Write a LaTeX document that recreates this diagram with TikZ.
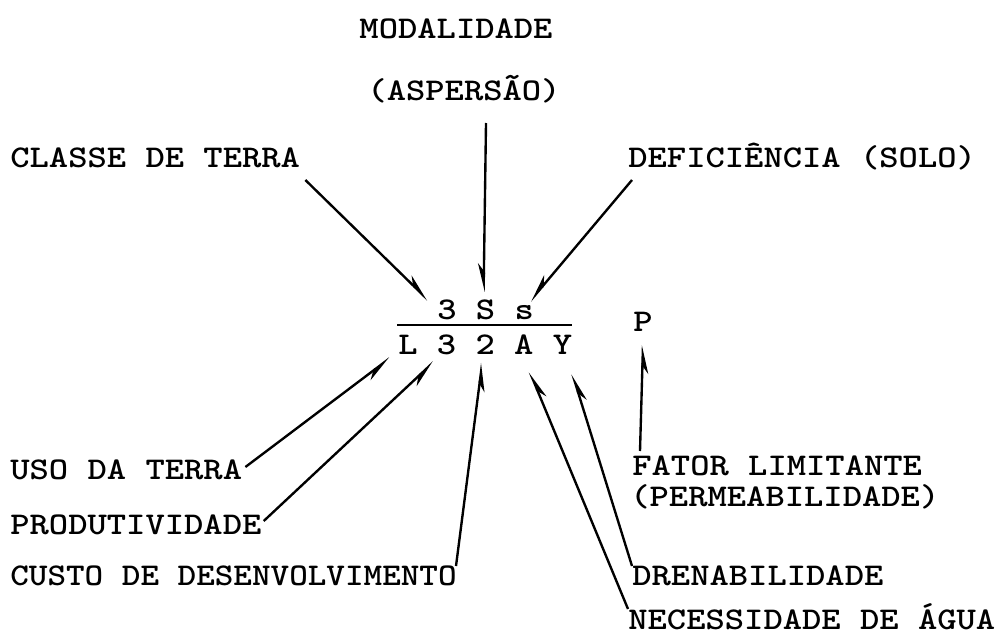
\documentclass[tikz,border=0pt]{standalone}
\usepackage{fontspec}
\usepackage{graphicx}
\usetikzlibrary{arrows.meta,calc}
\newcommand{\twx}[2][1.163]{\scalebox{#1}[1]{#2}}
\begin{document}
\begin{tikzpicture}[x=0.02cm,y=-0.02cm,
  lbl/.style={inner sep=0pt, font=\fontsize{18}{22}\ttfamily\bfseries},
  arrR/.style={line width=1.35pt, -{Stealth[length=0.48cm,width=0.24cm,harpoon,swap]}},
  arrL/.style={line width=1.35pt, -{Stealth[length=0.48cm,width=0.24cm,harpoon]}},
  rulestyle/.style={line width=1.4pt}]
\useasboundingbox (0,0) rectangle (1000,635);
% top labels
\node[lbl,anchor=base] (mod) at (456,39) {\twx{MODALIDADE}};
\node[lbl,anchor=base] (asp) at (464,101) {\twx{(ASPERSÃO)}};
\node[lbl,anchor=base west] (classe) at (10,167) {\twx{CLASSE DE TERRA}};
\node[lbl,anchor=base west] (defic) at (628,167) {\twx{DEFICIÊNCIA (SOLO)}};
% formula top row
\node[lbl,anchor=base] (t3) at (447,319) {\twx{3}};
\node[lbl,anchor=base] (tS) at (485.6,319) {\twx{S}};
\node[lbl,anchor=base] (ts) at (524.2,319) {\twx{s}};
% formula bottom row
\node[lbl,anchor=base] (bL) at (408,354) {\twx{L}};
\node[lbl,anchor=base] (b3) at (446.6,354) {\twx{3}};
\node[lbl,anchor=base] (b2) at (485.2,354) {\twx{2}};
\node[lbl,anchor=base] (bA) at (523.8,354) {\twx{A}};
\node[lbl,anchor=base] (bY) at (562.4,354) {\twx{Y}};
\node[lbl,anchor=base] (P) at (643,331) {\twx{P}};
% bottom labels
\node[lbl,anchor=base west] (uso) at (10,479) {\twx{USO DA TERRA}};
\node[lbl,anchor=base west] (prod) at (10,534) {\twx{PRODUTIVIDADE}};
\node[lbl,anchor=base west] (custo) at (10,585) {\twx[1.12]{CUSTO DE DESENVOLVIMENTO}};
\node[lbl,anchor=base west] (fator) at (632,475) {\twx{FATOR LIMITANTE}};
\node[lbl,anchor=base west] (perm) at (630,506) {\twx{(PERMEABILIDADE)}};
\node[lbl,anchor=base west] (dren) at (632,585) {\twx{DRENABILIDADE}};
\node[lbl,anchor=base west] (neces) at (628,629) {\twx{NECESSIDADE DE ÁGUA}};
% fraction rule
\draw[rulestyle] ($(bL.base)+(-11,-29)$) -- ($(bY.base)+(10,-29)$);
% connectors
\draw[arrL] ($(classe.base east)+(5,13)$) -- ($(t3.base)+(-19,-19)$);
\draw[arrR] ($(asp.base)+(22,22)$) -- ($(tS.base)+(-2,-27)$);
\draw[arrR] ($(defic.base west)+(4,13)$) -- ($(ts.base)+(6,-18)$);
\draw[arrR] ($(uso.base east)+(3,-12)$) -- ($(bL.base)+(-18,4)$);
\draw[arrR] ($(prod.base east)+(2,-13)$) -- ($(b3.base)+(-13,8)$);
\draw[arrR] ($(custo.base west)+(446,-19)$) -- ($(b2.base)+(-3,9)$);
\draw[arrR] ($(neces.base west)+(0,-20)$) -- ($(bA.base)+(6,18)$);
\draw[arrR] ($(dren.base west)+(0,-19)$) -- ($(bY.base)+(10,20)$);
\draw[arrR] ($(fator.base west)+(8,-24)$) -- ($(P.base)+(0,14)$);
\end{tikzpicture}
\end{document}
